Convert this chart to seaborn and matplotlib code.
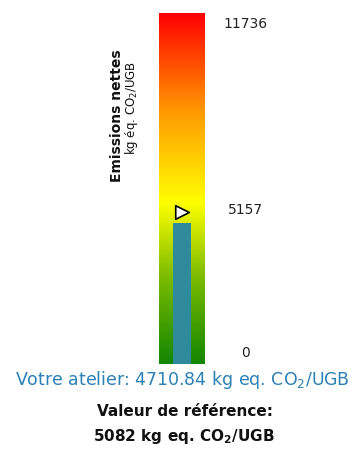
import numpy as np
import pandas as pd
import matplotlib
matplotlib.use("Agg")
import matplotlib.pyplot as plt
from matplotlib.colors import LinearSegmentedColormap
from matplotlib.transforms import blended_transform_factory
import seaborn as sns

# Values
atelier_label = ["Votre atelier"]
atelier_value = [4710.84]
reference_value = 5082
scale_max = 11736
tick_values = [0, 5157, 11736]
tick_labels = ["0", "5157", "11736"]

sns.set_theme(style="white")
plt.rcParams["font.family"] = ["DejaVu Sans"]
plt.rcParams["mathtext.fontset"] = "dejavusans"

W, H = 357, 450
fig = plt.figure(figsize=(W / 100, H / 100), dpi=100)
fig.patch.set_facecolor("white")

# gauge axes: 46 px wide, 351 px tall
ax = fig.add_axes([159 / W, 1 - 364 / H, 46 / W, 351 / H])
ax.set_xlim(-0.5, 0.5)
ax.set_ylim(0, scale_max)

# green -> yellow -> red colour ramp
cmap = LinearSegmentedColormap.from_list(
    "gauge", [(0.0, "#128600"), (0.25, "#7cbc00"), (0.46, "#ffff00"),
              (0.72, "#ff9a00"), (1.0, "#ff0000")])
grad = np.linspace(0, 1, 256).reshape(-1, 1)
ax.imshow(grad, cmap=cmap, origin="lower", aspect="auto",
          extent=(-0.5, 0.5, 0, scale_max), zorder=0)

df = pd.DataFrame({"atelier": atelier_label, "valeur": atelier_value})
sns.barplot(data=df, x="atelier", y="valeur", color="#2f8a9b",
            saturation=1, width=0.41, linewidth=0, ax=ax, zorder=2)
ax.set_xlim(-0.5, 0.5)
ax.set_ylim(0, scale_max)

ref = pd.DataFrame({"x": [0], "y": [reference_value]})
sns.scatterplot(data=ref, x="x", y="y", marker=">", s=95,
                color="white", edgecolor="black", linewidth=1.2,
                ax=ax, zorder=3, legend=False)

ax.set_xlabel("")
ax.set_ylabel("")
ax.set_xticks([])
ax.set_yticks([])
for s in ax.spines.values():
    s.set_visible(False)

# scale labels to the right of the gauge
trans = blended_transform_factory(ax.transAxes, ax.transData)
vas = ["bottom", "center", "top"]
offsets = [3, 0, -3]
for v, lab, va, off in zip(tick_values, tick_labels, vas, offsets):
    ax.annotate(lab, xy=(1.87, v), xycoords=trans, xytext=(0, off),
                textcoords="offset points", ha="center", va=va,
                fontsize=10, color="#222222")

# axis title, two lines
fig.text(117 / W, 1 - 116 / H, "Emissions nettes", rotation=90,
         ha="center", va="center", fontsize=10, fontweight="bold",
         color="#111111")
fig.text(132 / W, 1 - 108 / H, r"kg éq. CO$_2$/UGB", rotation=90,
         ha="center", va="center", fontsize=8.5, color="#111111")

# captions under the gauge
fig.text(182 / W, 1 - 380 / H,
         f"Votre atelier: {atelier_value[0]:.2f} kg eq. CO$_2$/UGB",
         ha="center", va="center", fontsize=12.5, color="#2b80b5")
fig.text(185 / W, 1 - 411 / H, "Valeur de référence:",
         ha="center", va="center", fontsize=11, fontweight="bold",
         color="#111111")
fig.text(184 / W, 1 - 437 / H,
         f"{reference_value} kg eq. CO$_\\mathbf{{2}}$/UGB",
         ha="center", va="center", fontsize=11, fontweight="bold",
         color="#111111")

fig.savefig("out.png", dpi=100, facecolor="white")
